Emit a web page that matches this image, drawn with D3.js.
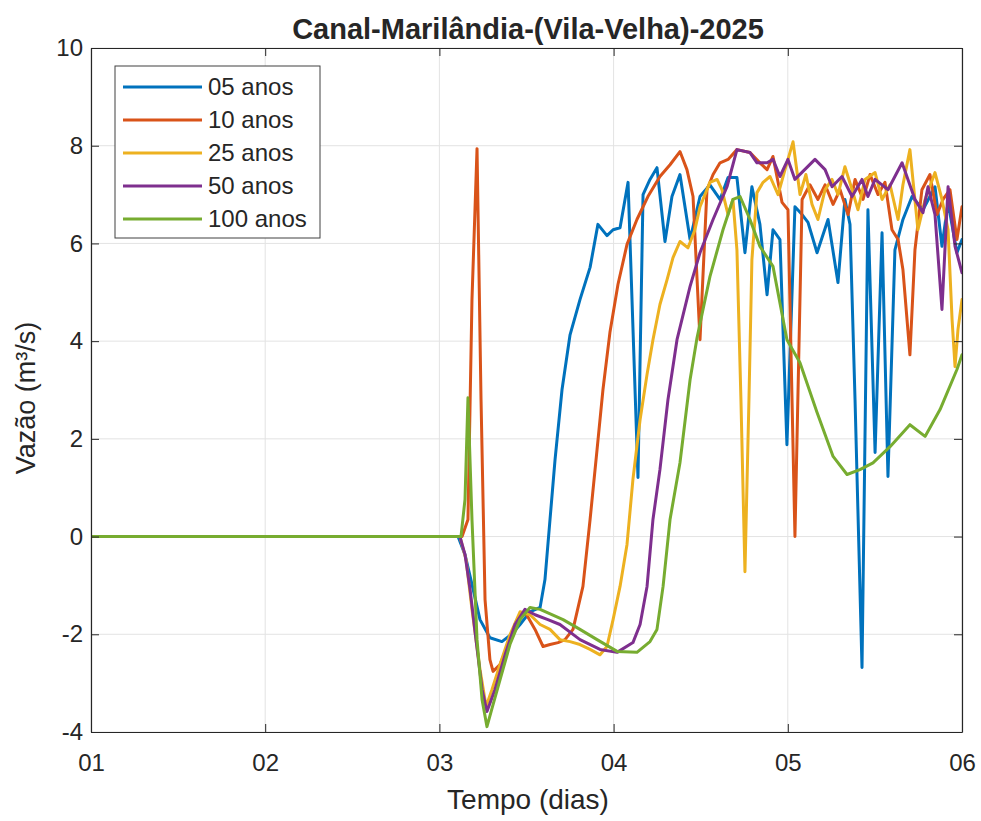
<!DOCTYPE html>
<html>
<head>
<meta charset="utf-8">
<script src="https://cdn.jsdelivr.net/npm/d3@7"></script>
<style>
  html, body { margin: 0; padding: 0; background: #fff; }
  svg { display: block; }
  text { font-family: "Liberation Sans", Arial, Helvetica, sans-serif; fill: #262626; }
</style>
</head>
<body>
<svg id="chart" width="981" height="821"></svg>
<script>
// ---------------- DATA ----------------
const title = "Canal-Marilândia-(Vila-Velha)-2025";
const xLabel = "Tempo (dias)";
const yLabel = "Vazão  (m³/s)";
const xTicks = [1, 2, 3, 4, 5, 6];
const xTickLabels = ["01", "02", "03", "04", "05", "06"];
const yTicks = [-4, -2, 0, 2, 4, 6, 8, 10];
const yTickLabels = ["-4", "-2", "0", "2", "4", "6", "8", "10"];
const seriesNames = ["05 anos", "10 anos", "25 anos", "50 anos", "100 anos"];
const seriesColors = ["#0072BD", "#D95319", "#EDB120", "#7E2F8E", "#77AC30"];

// [day, flow m3/s]
const s05 = [[1,0],[3.107,0],[3.147,-0.37],[3.187,-0.98],[3.233,-1.70],[3.290,-2.07],[3.359,-2.15],[3.417,-1.99],[3.463,-1.80],[3.520,-1.54],[3.578,-1.45],[3.606,-0.88],[3.635,0.35],[3.664,1.58],[3.704,3.01],[3.750,4.13],[3.807,4.85],[3.865,5.51],[3.910,6.39],[3.962,6.16],[3.997,6.28],[4.037,6.32],[4.083,7.25],[4.140,1.21],[4.169,7.00],[4.209,7.31],[4.249,7.55],[4.295,6.04],[4.335,6.96],[4.381,7.41],[4.439,6.08],[4.496,6.96],[4.553,7.20],[4.611,6.90],[4.657,7.35],[4.708,7.35],[4.754,5.81],[4.794,7.16],[4.840,6.39],[4.881,4.95],[4.915,6.28],[4.955,6.08],[4.995,1.88],[5.041,6.75],[5.082,6.59],[5.116,6.43],[5.168,5.81],[5.231,6.49],[5.288,5.20],[5.328,6.90],[5.357,6.39],[5.386,2.80],[5.426,-2.68],[5.460,6.69],[5.501,1.72],[5.541,6.22],[5.575,1.23],[5.615,5.87],[5.661,6.49],[5.713,6.96],[5.776,6.69],[5.845,7.16],[5.885,5.94],[5.920,6.84],[5.971,5.81],[6.000,6.08]];

const s10 = [[1,0],[3.130,0],[3.164,0.35],[3.187,4.85],[3.216,7.94],[3.239,2.80],[3.262,-1.29],[3.290,-2.52],[3.308,-2.76],[3.348,-2.62],[3.394,-2.21],[3.434,-1.80],[3.491,-1.54],[3.549,-1.90],[3.595,-2.25],[3.635,-2.21],[3.681,-2.17],[3.721,-2.11],[3.767,-1.90],[3.824,-1.02],[3.865,0.35],[3.905,1.78],[3.939,3.01],[3.979,4.18],[4.025,5.16],[4.077,5.98],[4.134,6.49],[4.197,6.96],[4.266,7.37],[4.324,7.61],[4.381,7.88],[4.421,7.51],[4.456,6.96],[4.496,4.03],[4.536,7.10],[4.571,7.41],[4.611,7.65],[4.657,7.72],[4.708,7.92],[4.783,7.86],[4.840,7.65],[4.881,7.51],[4.915,7.78],[4.967,6.84],[5.001,6.69],[5.041,0.00],[5.082,6.90],[5.127,7.20],[5.173,6.90],[5.214,7.20],[5.260,6.80],[5.300,7.10],[5.346,6.59],[5.386,7.31],[5.432,6.90],[5.472,7.41],[5.518,7.00],[5.558,7.25],[5.598,6.28],[5.633,6.08],[5.661,5.46],[5.701,3.72],[5.730,5.87],[5.770,7.10],[5.816,7.41],[5.856,6.59],[5.891,6.90],[5.931,7.10],[5.971,6.08],[6.000,6.75]];

const s25 = [[1,0],[3.118,0],[3.153,-0.47],[3.187,-1.49],[3.233,-2.72],[3.268,-3.48],[3.302,-3.13],[3.348,-2.62],[3.405,-2.01],[3.463,-1.54],[3.520,-1.60],[3.578,-1.80],[3.635,-1.90],[3.692,-2.11],[3.750,-2.15],[3.807,-2.21],[3.865,-2.31],[3.922,-2.42],[3.962,-2.25],[3.997,-1.70],[4.037,-1.02],[4.077,-0.16],[4.111,1.17],[4.152,2.39],[4.192,3.32],[4.226,4.03],[4.266,4.75],[4.307,5.26],[4.341,5.71],[4.381,6.04],[4.427,5.91],[4.467,6.28],[4.496,6.75],[4.553,7.25],[4.594,7.31],[4.622,7.10],[4.657,6.59],[4.685,6.90],[4.708,5.87],[4.731,2.80],[4.754,-0.72],[4.777,2.80],[4.794,5.67],[4.823,7.04],[4.858,7.25],[4.898,7.37],[4.944,7.00],[4.984,7.51],[5.030,8.08],[5.070,7.00],[5.104,7.41],[5.139,6.80],[5.173,6.49],[5.214,7.10],[5.254,7.31],[5.288,7.00],[5.328,7.57],[5.369,7.10],[5.403,6.69],[5.443,7.31],[5.501,7.45],[5.541,6.90],[5.587,7.20],[5.633,6.49],[5.661,7.20],[5.701,7.92],[5.747,6.28],[5.788,6.90],[5.845,7.45],[5.885,6.90],[5.920,6.28],[5.943,4.44],[5.960,3.48],[5.977,4.24],[6.000,4.85]];

const s50 = [[1,0],[3.118,0],[3.147,-0.37],[3.176,-1.08],[3.210,-2.11],[3.245,-3.13],[3.273,-3.58],[3.319,-3.13],[3.377,-2.42],[3.434,-1.80],[3.491,-1.49],[3.549,-1.60],[3.623,-1.70],[3.692,-1.80],[3.807,-2.11],[3.922,-2.31],[4.020,-2.37],[4.111,-2.17],[4.152,-1.80],[4.192,-1.02],[4.226,0.35],[4.266,1.37],[4.312,2.80],[4.364,4.03],[4.439,5.12],[4.496,5.81],[4.571,6.49],[4.651,7.16],[4.708,7.92],[4.783,7.86],[4.823,7.65],[4.881,7.65],[4.915,7.72],[4.955,7.37],[5.001,7.72],[5.041,7.31],[5.156,7.72],[5.214,7.51],[5.254,7.16],[5.311,7.37],[5.369,6.96],[5.426,7.31],[5.460,6.96],[5.501,7.31],[5.575,7.10],[5.656,7.65],[5.730,6.90],[5.776,6.63],[5.805,7.16],[5.845,6.59],[5.885,4.65],[5.920,7.16],[5.960,5.94],[6.000,5.40]];

const s100 = [[1,0],[3.124,0],[3.147,0.76],[3.164,2.84],[3.187,0.35],[3.216,-2.11],[3.245,-3.34],[3.273,-3.89],[3.308,-3.44],[3.348,-2.93],[3.405,-2.21],[3.463,-1.70],[3.520,-1.45],[3.578,-1.49],[3.710,-1.70],[3.807,-1.90],[3.905,-2.11],[4.020,-2.35],[4.134,-2.37],[4.209,-2.15],[4.249,-1.90],[4.284,-1.02],[4.324,0.35],[4.381,1.51],[4.439,3.21],[4.479,4.07],[4.553,5.32],[4.628,6.28],[4.685,6.90],[4.726,6.96],[4.783,6.49],[4.840,5.94],[4.915,5.53],[4.995,4.03],[5.070,3.56],[5.168,2.54],[5.260,1.64],[5.340,1.27],[5.414,1.37],[5.489,1.51],[5.587,1.84],[5.701,2.29],[5.788,2.05],[5.874,2.60],[5.971,3.42],[6.000,3.72]];

const allSeries = [s05, s10, s25, s50, s100];

// ---------------- LAYOUT ----------------
const svg = d3.select("#chart");
const L = 91, R = 962, T = 48, B = 732;
const x = d3.scaleLinear().domain([1, 6]).range([L, R]);
const y = d3.scaleLinear().domain([-4, 10]).range([B, T]);
const axisColor = "#262626";
const tickLen = 8;

// grid
const grid = svg.append("g");
grid.selectAll("line.gx").data(xTicks).join("line")
  .attr("x1", d => x(d)).attr("x2", d => x(d)).attr("y1", T).attr("y2", B)
  .attr("stroke", "#e3e3e3").attr("stroke-width", 1);
grid.selectAll("line.gy").data(yTicks).join("line")
  .attr("x1", L).attr("x2", R).attr("y1", d => y(d)).attr("y2", d => y(d))
  .attr("stroke", "#e3e3e3").attr("stroke-width", 1);

// lines
const line = d3.line().x(d => x(d[0])).y(d => y(d[1]));
svg.append("clipPath").attr("id", "clip").append("rect")
  .attr("x", L).attr("y", T - 2).attr("width", R - L).attr("height", B - T + 4);
const lines = svg.append("g").attr("clip-path", "url(#clip)");
allSeries.forEach((s, i) => {
  lines.append("path").datum(s).attr("d", line)
    .attr("fill", "none").attr("stroke", seriesColors[i])
    .attr("stroke-width", 3).attr("stroke-linejoin", "round").attr("stroke-linecap", "round");
});

// axes (box with inward ticks)
const xAxisB = d3.axisBottom(x).tickValues(xTicks).tickFormat((d, i) => xTickLabels[i]).tickSizeInner(-tickLen).tickSizeOuter(0).tickPadding(22);
const xAxisT = d3.axisTop(x).tickValues(xTicks).tickFormat("").tickSizeInner(-tickLen).tickSizeOuter(0);
const yAxisL = d3.axisLeft(y).tickValues(yTicks).tickFormat((d, i) => yTickLabels[i]).tickSizeInner(-tickLen).tickSizeOuter(0).tickPadding(8);
const yAxisR = d3.axisRight(y).tickValues(yTicks).tickFormat("").tickSizeInner(-tickLen).tickSizeOuter(0);

function style(g) {
  g.selectAll("path.domain").attr("stroke", axisColor).attr("stroke-width", 1.2);
  g.selectAll(".tick line").attr("stroke", axisColor).attr("stroke-width", 1);
  g.selectAll(".tick text").attr("fill", axisColor).style("font-size", "24px")
    .style("font-family", '"Liberation Sans", Arial, sans-serif');
}
svg.append("g").attr("transform", `translate(0,${B})`).call(xAxisB).call(style);
svg.append("g").attr("transform", `translate(0,${T})`).call(xAxisT).call(style);
svg.append("g").attr("transform", `translate(${L},0)`).call(yAxisL).call(style);
svg.append("g").attr("transform", `translate(${R},0)`).call(yAxisR).call(style);

// title & labels
svg.append("text").attr("x", 528).attr("y", 39).attr("text-anchor", "middle")
  .style("font-size", "29px").style("font-weight", "bold").text(title);
svg.append("text").attr("x", 528).attr("y", 809).attr("text-anchor", "middle")
  .style("font-size", "28px").text(xLabel);
svg.append("text").attr("transform", `translate(35,398) rotate(-90)`).attr("text-anchor", "middle")
  .style("font-size", "27px").text(yLabel);

// legend
const lg = svg.append("g");
lg.append("rect").attr("x", 115).attr("y", 66).attr("width", 205).attr("height", 172)
  .attr("fill", "#fff").attr("stroke", "#404040").attr("stroke-width", 1);
seriesNames.forEach((name, i) => {
  const cy = 87 + i * 33;
  lg.append("line").attr("x1", 123).attr("x2", 202).attr("y1", cy).attr("y2", cy)
    .attr("stroke", seriesColors[i]).attr("stroke-width", 3);
  lg.append("text").attr("x", 208).attr("y", cy).attr("dy", "0.35em")
    .style("font-size", "24px").text(name);
});
</script>
</body>
</html>
